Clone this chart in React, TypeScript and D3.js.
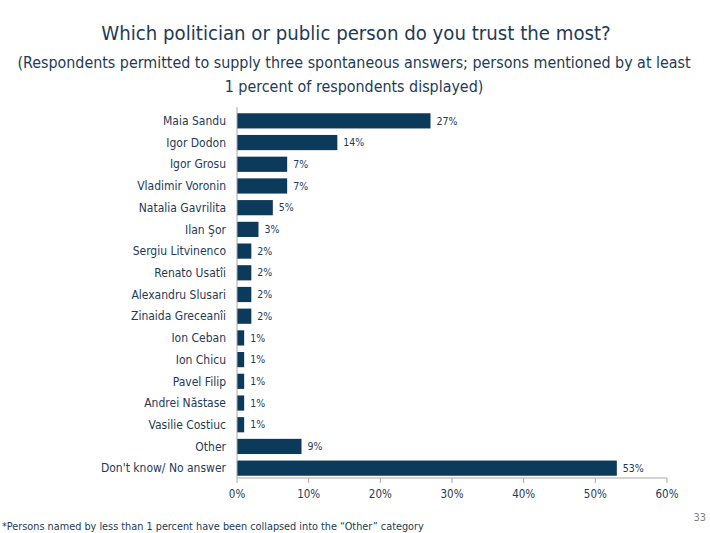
import React from "react";
import * as d3 from "d3";

const categories = [
  "Maia Sandu",
  "Igor Dodon",
  "Igor Grosu",
  "Vladimir Voronin",
  "Natalia Gavrilita",
  "Ilan Şor",
  "Sergiu Litvinenco",
  "Renato Usatîi",
  "Alexandru Slusari",
  "Zinaida Greceanîi",
  "Ion Ceban",
  "Ion Chicu",
  "Pavel Filip",
  "Andrei Năstase",
  "Vasilie Costiuc",
  "Other",
  "Don't know/ No answer",
];
const values = [27, 14, 7, 7, 5, 3, 2, 2, 2, 2, 1, 1, 1, 1, 1, 9, 53];
const ticks = [0, 10, 20, 30, 40, 50, 60];

const W = 710;
const H = 533;
const FONT = "'DejaVu Sans Condensed', 'DejaVu Sans', sans-serif";
const BAR = "#0b3a5b";
const TEXT = "#1d3b57";
const AXIS = "#a8a8a8";

export default function App() {
  const x = d3.scaleLinear().domain([0, 60]).range([237, 667]);
  const y = d3.scaleBand<string>().domain(categories).range([110, 479]).paddingInner(0.3).paddingOuter(0.15);
  return (
    <svg width={W} height={H} style={{ position: "absolute", left: 0, top: 0, background: "#fff" }} fontFamily={FONT}>
      <text x={356} y={40} textAnchor="middle" fontSize={20.2} fill={TEXT} style={{ fontStretch: "condensed" }}>
        Which politician or public person do you trust the most?
      </text>
      <text x={354} y={68} textAnchor="middle" fontSize={15.9} fill={TEXT} style={{ fontStretch: "condensed" }}>
        (Respondents permitted to supply three spontaneous answers; persons mentioned by at least
      </text>
      <text x={354} y={92} textAnchor="middle" fontSize={15.9} fill={TEXT} style={{ fontStretch: "condensed" }}>
        1 percent of respondents displayed)
      </text>
      {categories.map((c, i) => {
        const yy = y(c)!;
        const bw = y.bandwidth();
        return (
          <g key={c}>
            <rect x={x(0)} y={yy} width={x(values[i]) - x(0)} height={bw} fill={BAR} />
            <text x={226} y={yy + bw / 2} dy="0.35em" textAnchor="end" fontSize={12} fill={TEXT} style={{ fontStretch: "condensed" }}>
              {c}
            </text>
            <text x={x(values[i]) + 6} y={yy + bw / 2} dy="0.35em" fontSize={10.5} fill={TEXT} style={{ fontStretch: "condensed" }}>
              {values[i]}%
            </text>
          </g>
        );
      })}
      <line x1={x(0)} x2={x(0)} y1={107} y2={478} stroke={AXIS} strokeWidth={1} />
      <line x1={x(0)} x2={x(60)} y1={478} y2={478} stroke={AXIS} strokeWidth={1} />
      {ticks.map((t) => (
        <g key={t}>
          <line x1={x(t)} x2={x(t)} y1={478} y2={483} stroke={AXIS} />
          <text x={x(t)} y={498} textAnchor="middle" fontSize={11.5} fill={TEXT} style={{ fontStretch: "condensed" }}>
            {t}%
          </text>
        </g>
      ))}
      <text x={2} y={530} fontSize={10.8} fill={TEXT} style={{ fontStretch: "condensed" }}>
        *Persons named by less than 1 percent have been collapsed into the “Other” category
      </text>
      <text x={706} y={521} textAnchor="end" fontSize={11} fill="#7f7f7f" style={{ fontStretch: "condensed" }}>
        33
      </text>
    </svg>
  );
}
